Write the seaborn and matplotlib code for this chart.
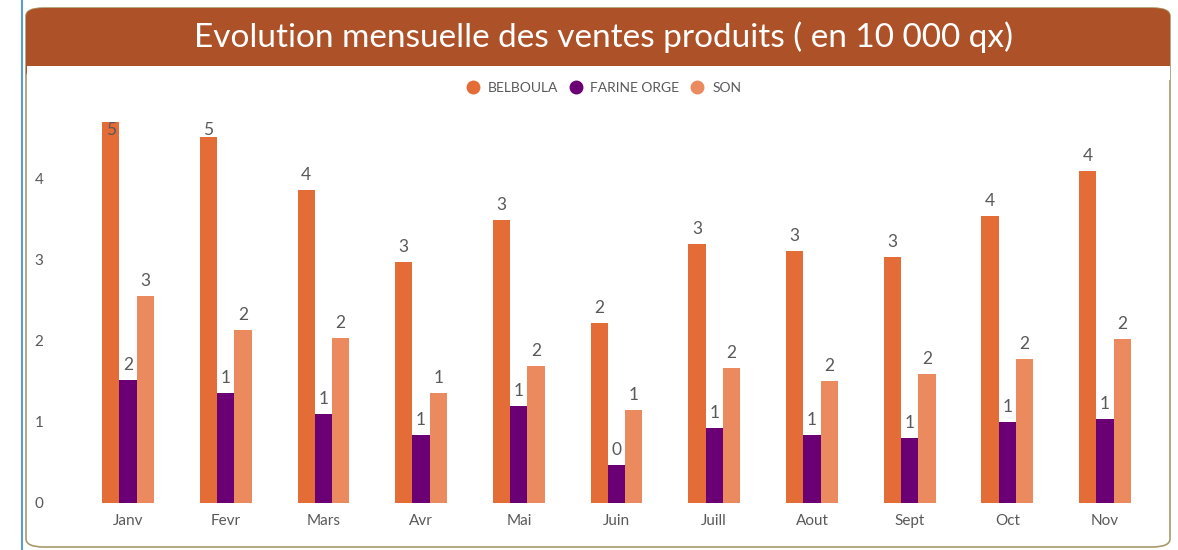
import pandas as pd
import numpy as np
import matplotlib.pyplot as plt
from matplotlib.patches import FancyBboxPatch, Rectangle
from matplotlib.lines import Line2D
import seaborn as sns

months = ['Janv', 'Fevr', 'Mars', 'Avr', 'Mai', 'Juin', 'Juill', 'Aout', 'Sept', 'Oct', 'Nov']
belboula = [4.70, 4.52, 3.86, 2.98, 3.49, 2.22, 3.20, 3.11, 3.04, 3.54, 4.10]
farine_orge = [1.52, 1.36, 1.10, 0.84, 1.20, 0.47, 0.93, 0.84, 0.80, 1.00, 1.04]
son = [2.56, 2.14, 2.04, 1.36, 1.69, 1.15, 1.67, 1.51, 1.59, 1.78, 2.02]
products = ['BELBOULA', 'FARINE ORGE', 'SON']
colors = ['#E46C37', '#6B0075', '#EC8A5F']

sns.set_style('white')
plt.rcParams['font.family'] = ['Lato', 'DejaVu Sans']

df = pd.DataFrame({'mois': months * 3,
                   'produit': np.repeat(products, len(months)),
                   'valeur': belboula + farine_orge + son})

W, H = 1178, 550
fig = plt.figure(figsize=(W / 100, H / 100), dpi=100)

def fx(x):
    return x / W

def fy(y):
    return 1 - y / H

# frame and title band (behind the axes)
frame = FancyBboxPatch((fx(26), fy(547)), fx(1170 - 26), (547 - 8) / H,
                       boxstyle='round,pad=0,rounding_size=0.015',
                       transform=fig.transFigure, facecolor='white',
                       edgecolor='#A89A6A', linewidth=1.2, zorder=-3)
fig.patches.append(frame)
band = FancyBboxPatch((fx(26), fy(80)), fx(1170 - 26), (80 - 8) / H,
                      boxstyle='round,pad=0,rounding_size=0.015',
                      transform=fig.transFigure, facecolor='#AD5128',
                      edgecolor='none', zorder=-2)
fig.patches.append(band)
fig.patches.append(Rectangle((fx(26.5), fy(80)), fx(1169.5 - 26.5), (80 - 66) / H,
                             transform=fig.transFigure, facecolor='white',
                             edgecolor='none', zorder=-1))
fig.lines.append(Line2D([fx(22), fx(22)], [0, 1], transform=fig.transFigure,
                        color='#5B9BD5', linewidth=1.5))
fig.text(fx(603), fy(37), 'Evolution mensuelle des ventes produits ( en 10 000 qx)',
         ha='center', va='center', color='white', fontsize=24, zorder=3)

ax = fig.add_axes([fx(60), fy(503), fx(1150 - 60), (503 - 110) / H])
ax.patch.set_alpha(0)
sns.barplot(data=df, x='mois', y='valeur', hue='produit', palette=colors,
            width=0.53, ax=ax, legend=False, saturation=1, linewidth=0)

for cont, vals in zip(ax.containers, [belboula, farine_orge, son]):
    for bar, v in zip(cont, vals):
        cx = bar.get_x() + bar.get_width() / 2
        if v > 4.4:
            ax.text(cx, 4.6, f'{v:.0f}', ha='center', va='center',
                    color='#595959', fontsize=12.5)
        else:
            ax.annotate(f'{v:.0f}', (cx, v), xytext=(0, 5), textcoords='offset points',
                        ha='center', va='bottom', color='#595959', fontsize=12.5)

ax.set_xlim(-0.696, 10.46)
ax.set_ylim(0, 4.85)
ax.set_yticks([0, 1, 2, 3, 4])
ax.set_xlabel('')
ax.set_ylabel('')
ax.tick_params(axis='both', length=0, colors='#595959', labelsize=11)
ax.tick_params(axis='y', pad=12)
ax.tick_params(axis='x', pad=8)
sns.despine(ax=ax, left=True, bottom=True)

handles = [Line2D([], [], marker='o', linestyle='', markersize=9,
                  markerfacecolor=c, markeredgecolor=c) for c in colors]
fig.legend(handles, products, loc='center', bbox_to_anchor=(fx(600), fy(88)),
           ncol=3, frameon=False, fontsize=10, handletextpad=0.05,
           columnspacing=0.3, labelcolor='#595959')

fig.savefig('out.png', dpi=100)
